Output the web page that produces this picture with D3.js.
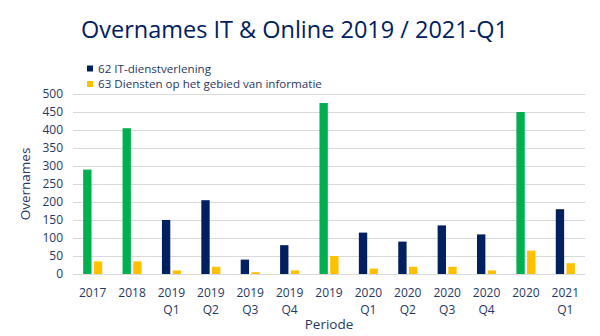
<!DOCTYPE html>
<html><head><meta charset="utf-8">
<script src="https://cdn.jsdelivr.net/npm/d3@7"></script>
<style>body{margin:0;background:#fff}svg{display:block}</style>
</head><body>
<svg id="c" width="600" height="336"></svg>
<script>
const categories = ["2017","2018","2019|Q1","2019|Q2","2019|Q3","2019|Q4","2019","2020|Q1","2020|Q2","2020|Q3","2020|Q4","2020","2021|Q1"];
const itValues = [290,405,150,205,40,80,475,115,90,135,110,450,180];
const infoValues = [35,35,10,20,5,10,50,15,20,20,10,65,30];
const yTicks = [0,50,100,150,200,250,300,350,400,450,500];
const seriesNames = ["62 IT-dienstverlening","63 Diensten op het gebied van informatie"];

const navy = "#002060", green = "#00B050", yellow = "#FFC000", txt = "#1F3864";
const font = "'Open Sans', sans-serif";
const svg = d3.select("#c");
const m = {l:73, r:585, t:94, b:274};

const x = d3.scaleBand().domain(categories).range([m.l, m.r]).paddingInner(0).paddingOuter(0);
const y = d3.scaleLinear().domain([0,500]).range([m.b, m.t]);
const inner = d3.scaleBand().domain([0,1]).range([0, x.bandwidth()]).paddingInner(0.22).paddingOuter(0.95);

function fit(sel, target) {
  const fs = parseFloat(sel.style("font-size"));
  const w = sel.node().getComputedTextLength();
  if (w > 0) sel.style("font-size", (fs * target / w).toFixed(2) + "px");
}

svg.append("g").selectAll("line").data(yTicks).join("line")
  .attr("x1", m.l).attr("x2", m.r)
  .attr("y1", d=>y(d)+0.5).attr("y2", d=>y(d)+0.5)
  .attr("stroke", "#d9d9d9").attr("stroke-width", 1);

const ya = svg.append("g").attr("transform", `translate(${m.l},0)`)
  .call(d3.axisLeft(y).tickValues(yTicks).tickSize(0).tickPadding(10));
ya.select(".domain").remove();
ya.selectAll("text").attr("fill", txt).style("font-family", font).style("font-size", "12px");

const isAnnual = c => !c.includes("|");
const g = svg.append("g");
categories.forEach((c,i) => {
  g.append("rect").attr("x", x(c)+inner(0)).attr("width", inner.bandwidth())
    .attr("y", y(itValues[i])).attr("height", y(0)-y(itValues[i]))
    .attr("fill", isAnnual(c) ? green : navy);
  g.append("rect").attr("x", x(c)+inner(1)).attr("width", inner.bandwidth())
    .attr("y", y(infoValues[i])).attr("height", y(0)-y(infoValues[i]))
    .attr("fill", yellow);
});

const xl = svg.append("g");
categories.forEach(c => {
  const parts = c.split("|");
  parts.forEach((p,j) => {
    xl.append("text").attr("x", x(c)+x.bandwidth()/2).attr("y", 297 + j*16.5)
      .attr("text-anchor","middle").attr("fill", txt)
      .style("font-family", font).style("font-size","12px").text(p);
  });
});

svg.append("text").attr("x", 329).attr("y", 329).attr("text-anchor","middle")
  .attr("fill", txt).style("font-family", font).style("font-size","13.5px").text("Periode");
svg.append("text").attr("transform","translate(30,184) rotate(-90)").attr("text-anchor","middle")
  .attr("fill", txt).style("font-family", font).style("font-size","13.5px").text("Overnames");

const title = svg.append("text").attr("x", 81).attr("y", 38).attr("fill", navy)
  .style("font-family", font).style("font-size","22px")
  .text("Overnames IT & Online 2019 / 2021-Q1");
fit(title, 427);

const lc = [navy, yellow];
const lt = [];
seriesNames.forEach((n,i) => {
  svg.append("rect").attr("x", 87).attr("y", 65.5 + i*15.5).attr("width", 6).attr("height", 6).attr("fill", lc[i]);
  lt.push(svg.append("text").attr("x", 98).attr("y", 72.5 + i*15.5).attr("fill", txt)
    .style("font-family", font).style("font-size","11px").text(n));
});
fit(lt[1], 224);
lt[0].style("font-size", lt[1].style("font-size"));
</script>
</body></html>
